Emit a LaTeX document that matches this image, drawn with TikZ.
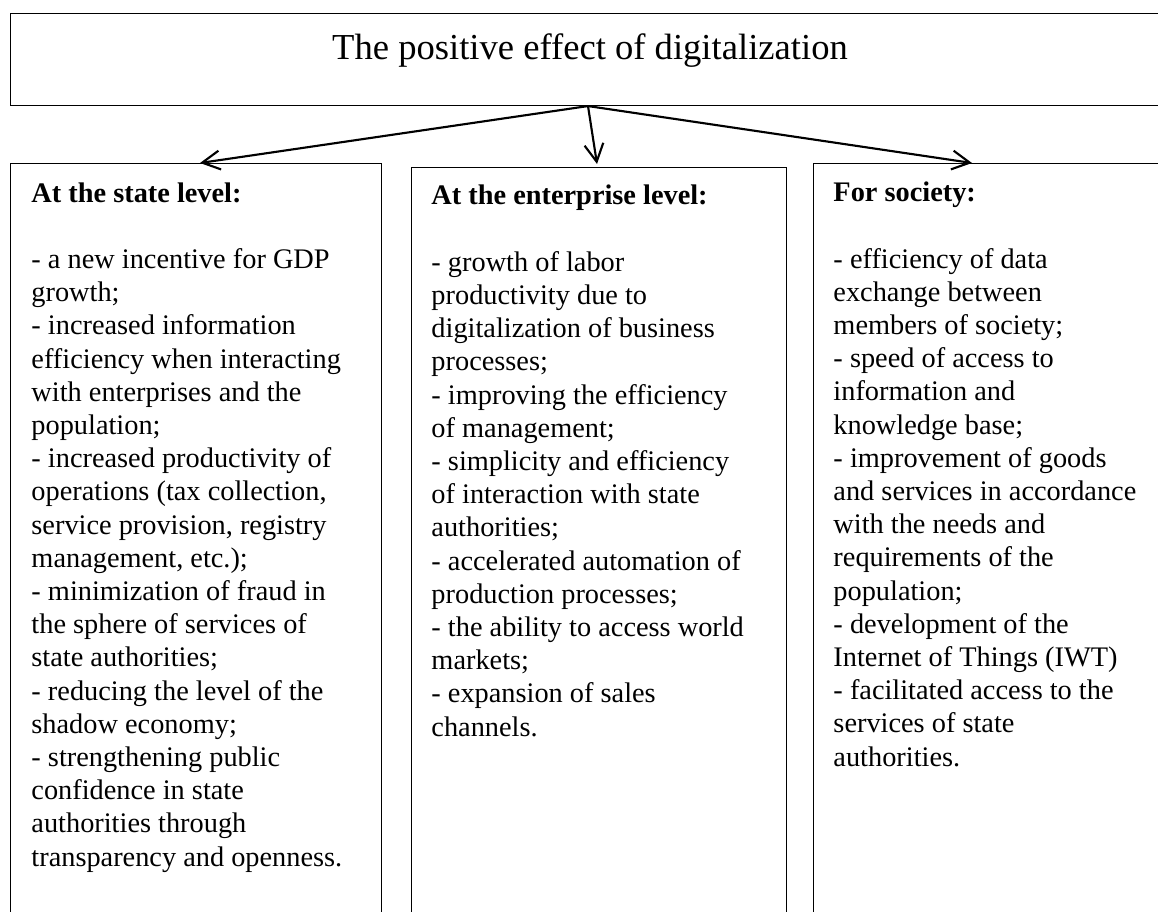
\documentclass[tikz,border=0pt]{standalone}
\usepackage{fontspec}
\setmainfont{Liberation Serif}
\usetikzlibrary{positioning,calc,arrows.meta}

\tikzset{
  panel/.style={draw, line width=0.45pt, anchor=north west, inner sep=0pt},
  panelText/.style={anchor=base west, align=left, inner sep=0pt,
    font=\fontsize{12pt}{14.06pt}\selectfont},
  link/.style={line width=0.9pt, -{Straight Barb[length=7.5pt,width=8pt]}}
}

\begin{document}
\begin{tikzpicture}[x=0.4235pt, y=-0.4235pt]
    \clip (0,0) rectangle (1158,912);
    \fill [white] (0,0) rectangle (1158,912);

    % Top box with the title
    \node [panel, minimum width={1180*0.4235pt}, minimum height={92*0.4235pt}] (effect) at (10,13) {};
    \node [anchor=base, inner sep=0pt, font=\fontsize{15.5pt}{18pt}\selectfont] (title) at (590,60) {The positive effect of digitalization};

    % The three levels
    \node [panel, minimum width={371*0.4235pt}, minimum height={800*0.4235pt}] (statebox) at (10,163) {};
    \node [panel, minimum width={375*0.4235pt}, minimum height={800*0.4235pt}] (firmbox) at (411,167) {};
    \node [panel, minimum width={400*0.4235pt}, minimum height={800*0.4235pt}] (socbox) at (813,163) {};

    % Arrows from the top box
    \coordinate (hub) at ($(effect.south west)+(578,0)$);
    \draw [link] (hub) -- ($(statebox.north west)+(190,0)$);
    \draw [link] (hub) -- ($(firmbox.north west)+(186,-3)$);
    \draw [link] (hub) -- ($(socbox.north west)+(159,0)$);

    % Texts of the boxes (anchored at the baseline of the last line)
    \node [panelText] (stateText) at (31,866) {\textbf{At the state level:}\\[14.06pt]
        - a new incentive for GDP\\
        growth;\\
        - increased information\\
        efficiency when interacting\\
        with enterprises and the\\
        population;\\
        - increased productivity of\\
        operations (tax collection,\\
        service provision, registry\\
        management, etc.);\\
        - minimization of fraud in\\
        the sphere of services of\\
        state authorities;\\
        - reducing the level of the\\
        shadow economy;\\
        - strengthening public\\
        confidence in state\\
        authorities through\\
        transparency and openness.};

    \node [panelText] (firmText) at (431,736) {\textbf{At the enterprise level:}\\[14.06pt]
        - growth of labor\\
        productivity due to\\
        digitalization of business\\
        processes;\\
        - improving the efficiency\\
        of management;\\
        - simplicity and efficiency\\
        of interaction with state\\
        authorities;\\
        - accelerated automation of\\
        production processes;\\
        - the ability to access world\\
        markets;\\
        - expansion of sales\\
        channels.};

    \node [panelText] (socText) at (833,766) {\textbf{For society:}\\[14.06pt]
        - efficiency of data\\
        exchange between\\
        members of society;\\
        - speed of access to\\
        information and\\
        knowledge base;\\
        - improvement of goods\\
        and services in accordance\\
        with the needs and\\
        requirements of the\\
        population;\\
        - development of the\\
        Internet of Things (IWT)\\
        - facilitated access to the\\
        services of state\\
        authorities.};
\end{tikzpicture}
\end{document}
